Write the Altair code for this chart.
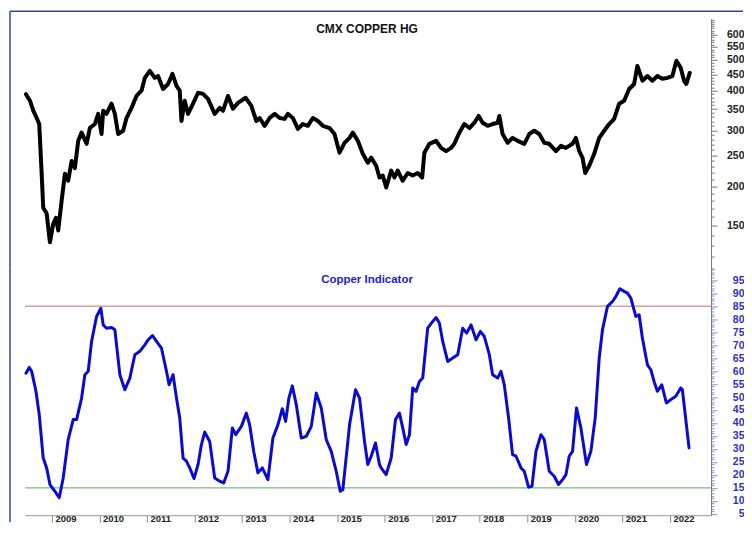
import json
import altair as alt
import pandas as pd

# ---------------- data ----------------
cu_t = [2008.454, 2008.538, 2008.607, 2008.679, 2008.733, 2008.784, 2008.817, 2008.889, 2008.958,
        2009.027, 2009.084, 2009.132, 2009.204, 2009.273, 2009.342, 2009.414, 2009.483, 2009.553,
        2009.624, 2009.729, 2009.798, 2009.903, 2009.973, 2010.044, 2010.078, 2010.149, 2010.254,
        2010.324, 2010.393, 2010.498, 2010.569, 2010.674, 2010.779, 2010.884, 2010.954, 2011.059,
        2011.164, 2011.233, 2011.338, 2011.443, 2011.536, 2011.620, 2011.689, 2011.725, 2011.794,
        2011.863, 2011.968, 2012.074, 2012.179, 2012.284, 2012.424, 2012.529, 2012.599, 2012.704,
        2012.809, 2012.914, 2013.076, 2013.195, 2013.300, 2013.370, 2013.475, 2013.580, 2013.685,
        2013.790, 2013.895, 2013.964, 2014.069, 2014.174, 2014.279, 2014.384, 2014.489, 2014.595,
        2014.700, 2014.840, 2014.945, 2015.050, 2015.155, 2015.261, 2015.330, 2015.435, 2015.540,
        2015.645, 2015.716, 2015.821, 2015.891, 2015.960, 2016.032, 2016.137, 2016.206, 2016.275,
        2016.380, 2016.485, 2016.590, 2016.695, 2016.788, 2016.836, 2016.941, 2017.082, 2017.187,
        2017.292, 2017.397, 2017.466, 2017.571, 2017.676, 2017.782, 2017.887, 2017.977, 2018.061,
        2018.166, 2018.271, 2018.376, 2018.412, 2018.481, 2018.586, 2018.691, 2018.796, 2018.937,
        2019.042, 2019.147, 2019.252, 2019.357, 2019.462, 2019.603, 2019.708, 2019.813, 2019.952,
        2020.023, 2020.092, 2020.162, 2020.218, 2020.303, 2020.408, 2020.513, 2020.618, 2020.723,
        2020.828, 2020.933, 2021.038, 2021.143, 2021.248, 2021.317, 2021.422, 2021.527, 2021.632,
        2021.737, 2021.842, 2021.947, 2022.053, 2022.137, 2022.229, 2022.298, 2022.347, 2022.418]
cu_v = [390, 372, 346, 328, 314, 219, 171, 164, 133,
        152, 159, 145, 180, 219, 208, 240, 228, 278,
        295, 272, 305, 314, 338, 292, 346, 338, 364,
        338, 292, 299, 328, 353, 385, 400, 439, 462,
        439, 445, 405, 420, 452, 414, 400, 321, 372,
        338, 364, 394, 391, 377, 338, 353, 346, 385,
        351, 366, 380, 358, 321, 328, 310, 328, 338,
        328, 326, 338, 328, 303, 314, 310, 328, 321,
        310, 305, 292, 255, 274, 284, 295, 278, 253,
        237, 246, 232, 213, 216, 198, 224, 213, 224,
        208, 220, 216, 220, 213, 255, 272, 278, 264,
        258, 264, 272, 295, 314, 305, 317, 333, 317,
        310, 314, 317, 333, 292, 274, 284, 278, 272,
        292, 299, 292, 274, 272, 258, 268, 264, 272,
        284, 258, 246, 220, 232, 253, 284, 299, 314,
        326, 364, 372, 405, 420, 479, 430, 445, 430,
        445, 436, 439, 445, 497, 472, 430, 420, 455]

ind_t = [2008.454, 2008.523, 2008.574, 2008.664, 2008.733, 2008.817, 2008.889, 2008.958, 2009.063,
         2009.153, 2009.237, 2009.342, 2009.447, 2009.519, 2009.624, 2009.693, 2009.763, 2009.834,
         2009.939, 2010.029, 2010.078, 2010.149, 2010.254, 2010.324, 2010.429, 2010.534, 2010.639,
         2010.744, 2010.849, 2010.954, 2011.023, 2011.116, 2011.200, 2011.305, 2011.410, 2011.464,
         2011.548, 2011.620, 2011.689, 2011.758, 2011.830, 2011.899, 2011.989, 2012.074, 2012.145,
         2012.214, 2012.319, 2012.424, 2012.529, 2012.613, 2012.704, 2012.796, 2012.866, 2012.985,
         2013.090, 2013.160, 2013.244, 2013.334, 2013.426, 2013.544, 2013.649, 2013.754, 2013.847,
         2013.916, 2013.985, 2014.057, 2014.141, 2014.246, 2014.351, 2014.456, 2014.561, 2014.666,
         2014.771, 2014.876, 2014.981, 2015.065, 2015.120, 2015.261, 2015.387, 2015.471, 2015.576,
         2015.645, 2015.716, 2015.807, 2015.891, 2015.926, 2016.031, 2016.137, 2016.227, 2016.311,
         2016.380, 2016.452, 2016.521, 2016.590, 2016.662, 2016.731, 2016.800, 2016.905, 2017.011,
         2017.082, 2017.151, 2017.221, 2017.326, 2017.431, 2017.536, 2017.641, 2017.725, 2017.817,
         2017.922, 2018.013, 2018.097, 2018.202, 2018.271, 2018.376, 2018.447, 2018.517, 2018.607,
         2018.691, 2018.763, 2018.868, 2018.937, 2019.027, 2019.099, 2019.183, 2019.288, 2019.357,
         2019.462, 2019.567, 2019.658, 2019.742, 2019.813, 2019.882, 2019.952, 2020.036, 2020.128,
         2020.246, 2020.338, 2020.429, 2020.513, 2020.582, 2020.687, 2020.792, 2020.863, 2020.947,
         2021.038, 2021.107, 2021.179, 2021.284, 2021.353, 2021.422, 2021.527, 2021.599, 2021.668,
         2021.737, 2021.830, 2021.926, 2022.019, 2022.124, 2022.229, 2022.263, 2022.403]
ind_v = [59.2, 61.4, 59.9, 52.2, 43.2, 26.5, 22.7, 16.3, 13.7,
         11.2, 18.8, 33.6, 41.3, 41.3, 49.6, 58.6, 59.9, 71.4,
         81.0, 84.2, 77.8, 76.5, 76.8, 75.9, 58.6, 52.8, 57.3,
         66.3, 67.6, 70.1, 72.0, 73.7, 71.4, 68.8, 59.9, 54.7,
         58.6, 49.6, 41.9, 26.5, 25.3, 22.7, 18.6, 24.0, 31.7,
         36.5, 32.9, 18.8, 17.6, 16.9, 21.4, 38.1, 35.5, 38.7,
         43.8, 39.3, 29.1, 20.8, 22.7, 18.2, 34.2, 39.3, 45.5,
         40.6, 49.6, 54.3, 47.0, 34.2, 34.9, 38.7, 51.5, 45.8,
         33.6, 29.1, 21.4, 13.7, 14.3, 39.3, 52.8, 49.6, 32.9,
         24.0, 27.2, 32.3, 24.0, 22.7, 20.1, 26.5, 41.3, 43.8,
         38.1, 31.7, 35.5, 53.5, 52.2, 56.0, 57.3, 76.5, 79.1,
         80.6, 78.5, 71.4, 63.7, 65.0, 66.3, 76.5, 74.6, 77.8,
         72.0, 75.3, 73.3, 66.3, 58.6, 57.3, 59.9, 54.7, 41.9,
         27.8, 27.2, 22.7, 21.4, 15.3, 15.6, 29.1, 35.5, 33.6,
         21.4, 19.5, 16.3, 18.2, 20.1, 27.2, 29.1, 45.8, 38.1,
         24.0, 29.1, 41.9, 65.0, 75.9, 84.9, 86.8, 88.7, 91.7,
         90.7, 90.0, 88.1, 81.0, 81.7, 72.7, 62.4, 60.5, 56.0,
         52.2, 54.7, 47.7, 49.0, 50.3, 53.5, 52.8, 30.4]

year_ticks = list(range(2009, 2023))
cu_major = [150, 200, 250, 300, 350, 400, 450, 500, 550, 600]
cu_minor = list(range(110, 680, 10))
ind_major = list(range(5, 100, 5))
ind_minor = list(range(5, 100))
band_levels = [85, 15]
band_colors = ["#c86a6a", "#5fa55f"]
titles = ["CMX COPPER HG", "Copper Indicator"]

# ---------------- layout / style ----------------
W = 687
H1 = 250
H2 = 247
X_DOMAIN = [2008.433, 2022.866]
CU_DOMAIN = [110, 674]
IND_DOMAIN = [4.5, 99.5]
NAVY = "#2b4a96"
FONT = "Liberation Sans"

cu_df = pd.DataFrame({"t": cu_t, "v": cu_v})
ind_df = pd.DataFrame({"t": ind_t, "v": ind_v})
band_df = pd.DataFrame({"v": band_levels, "c": band_colors})
xscale = alt.Scale(domain=X_DOMAIN, nice=False, zero=False)


def right_axis(values, major, color, tick_color):
    test = "indexof(%s, datum.value) >= 0" % json.dumps(major)
    return alt.Axis(
        orient="right", values=values, format="d", title=None, grid=False,
        labelExpr="%s ? datum.label : ''" % test,
        tickSize={"condition": {"test": test, "value": 6}, "value": 3},
        tickColor=tick_color, tickWidth=1, domainColor="#777", domainWidth=1,
        labelAlign="right", labelBaseline="middle", labelPadding=27,
        labelFont=FONT, labelFontSize=10.5, labelFontWeight="bold",
        labelColor=color, labelOverlap=False, labelFlush=False, labelBound=False,
    )


one = pd.DataFrame({"k": [0]})
frame_top = alt.Chart(one).mark_rule(color=NAVY, strokeWidth=1.5).encode(
    x=alt.value(-15), x2=alt.value(719), y=alt.value(-7.5))
frame_left1 = alt.Chart(one).mark_rule(color=NAVY, strokeWidth=1.5).encode(
    x=alt.value(-15), y=alt.value(-7.5), y2=alt.value(H1))
frame_left2 = alt.Chart(one).mark_rule(color=NAVY, strokeWidth=1.5).encode(
    x=alt.value(-15), y=alt.value(0), y2=alt.value(H2 + 7))

cu_axis = right_axis(cu_minor, cu_major, "#222", "#777")
copper = alt.Chart(cu_df).mark_line(
    color="black", strokeWidth=4, strokeJoin="round", strokeCap="round"
).encode(
    x=alt.X("t:Q", scale=xscale, axis=None),
    y=alt.Y("v:Q", scale=alt.Scale(type="log", domain=CU_DOMAIN, nice=False), axis=cu_axis),
)
title1 = alt.Chart(pd.DataFrame({"label": [titles[0]]})).mark_text(
    font=FONT, fontSize=12, fontWeight="bold", color="#111", baseline="middle"
).encode(x=alt.value(W / 2 - 1), y=alt.value(10.5), text="label:N")

top = alt.layer(frame_top, frame_left1, copper, title1).properties(width=W, height=H1)

ind_y = alt.Scale(domain=IND_DOMAIN, nice=False, zero=False)
ind_axis = right_axis(ind_minor, ind_major, "#3030c0", "#8a8ad0")
x_axis = alt.Axis(
    values=year_ticks, format="d", title=None, grid=False,
    tickSize=7, tickColor="#888", domainColor="#999",
    labelAlign="left", labelBaseline="middle", labelPadding=-3.5, labelOffset=3,
    labelFont=FONT, labelFontSize=9.5, labelFontWeight="bold", labelColor="#222",
    labelFlush=False, labelOverlap=False)

bands = alt.Chart(band_df).mark_rule(strokeWidth=1).encode(
    y=alt.Y("v:Q", scale=ind_y, axis=ind_axis),
    color=alt.Color("c:N", scale=None, legend=None),
)
indicator = alt.Chart(ind_df).mark_line(
    color="#0b0bd0", strokeWidth=3, strokeJoin="round", strokeCap="round"
).encode(
    x=alt.X("t:Q", scale=xscale, axis=x_axis),
    y=alt.Y("v:Q", scale=ind_y, axis=ind_axis),
)
title2 = alt.Chart(pd.DataFrame({"label": [titles[1]]})).mark_text(
    font=FONT, fontSize=11.5, fontWeight="bold", color="#2323c8", baseline="middle"
).encode(x=alt.value(W / 2 - 1), y=alt.value(12), text="label:N")

bottom = alt.layer(frame_left2, bands, indicator, title2).properties(width=W, height=H2)

chart = alt.vconcat(top, bottom, spacing=0, bounds="flush").properties(
    padding={"left": 1, "top": 1.5, "right": 0, "bottom": 0},
    background="white",
).configure_view(stroke=None)

chart.save("out.html", embed_options={"renderer": "svg", "actions": False})
